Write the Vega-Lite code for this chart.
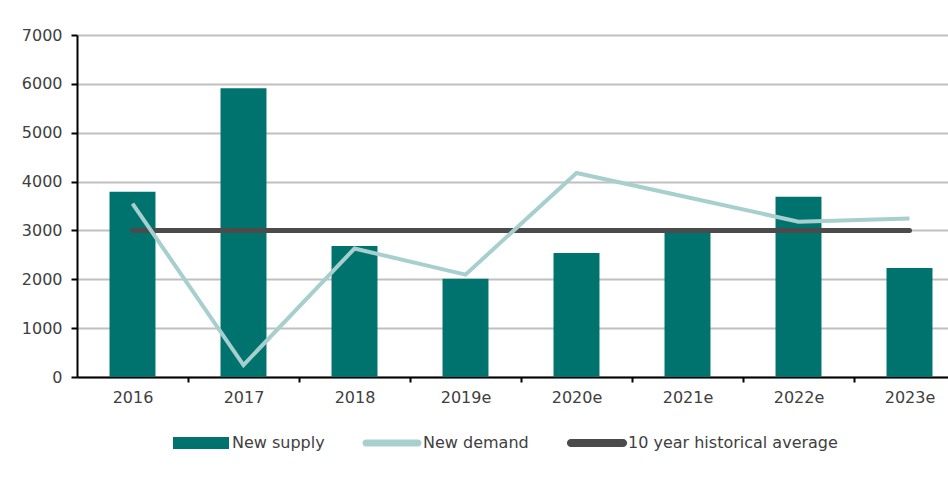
{
  "$schema": "https://vega.github.io/schema/vega-lite/v6.json",
  "width": 871,
  "height": 342,
  "autosize": {"type": "none"},
  "padding": {"left": 77, "top": 35, "right": 0, "bottom": 102},
  "background": "white",
  "config": {"view": {"stroke": null}, "font": "DejaVu Sans"},
  "data": {
    "values": [
      {"year": "2016", "series": "New supply", "value": 3790},
      {"year": "2017", "series": "New supply", "value": 5910},
      {"year": "2018", "series": "New supply", "value": 2680},
      {"year": "2019e", "series": "New supply", "value": 2010},
      {"year": "2020e", "series": "New supply", "value": 2540},
      {"year": "2021e", "series": "New supply", "value": 3000},
      {"year": "2022e", "series": "New supply", "value": 3690},
      {"year": "2023e", "series": "New supply", "value": 2230},
      {"year": "2016", "series": "New demand", "value": 3550},
      {"year": "2017", "series": "New demand", "value": 245},
      {"year": "2018", "series": "New demand", "value": 2630},
      {"year": "2019e", "series": "New demand", "value": 2095},
      {"year": "2020e", "series": "New demand", "value": 4175},
      {"year": "2021e", "series": "New demand", "value": 3680},
      {"year": "2022e", "series": "New demand", "value": 3180},
      {"year": "2023e", "series": "New demand", "value": 3245},
      {"year": "2016", "series": "10 year historical average", "value": 3000},
      {"year": "2017", "series": "10 year historical average", "value": 3000},
      {"year": "2018", "series": "10 year historical average", "value": 3000},
      {"year": "2019e", "series": "10 year historical average", "value": 3000},
      {"year": "2020e", "series": "10 year historical average", "value": 3000},
      {"year": "2021e", "series": "10 year historical average", "value": 3000},
      {"year": "2022e", "series": "10 year historical average", "value": 3000},
      {"year": "2023e", "series": "10 year historical average", "value": 3000}
    ]
  },
  "encoding": {
    "x": {
      "field": "year",
      "type": "ordinal",
      "sort": null,
      "scale": {"range": [0, 888], "paddingInner": 0.586, "paddingOuter": 0.293},
      "axis": {
        "title": null,
        "labelAngle": 0,
        "grid": false,
        "domainColor": "black",
        "domainWidth": 2,
        "tickColor": "black",
        "tickWidth": 2,
        "tickSize": 5,
        "tickOffset": 55.5,
        "labelOffset": -55.5,
        "labelPadding": 7,
        "labelFont": "DejaVu Sans",
        "labelFontSize": 16,
        "labelColor": "#404040"
      }
    },
    "y": {
      "field": "value",
      "type": "quantitative",
      "scale": {"domain": [0, 7000], "nice": false},
      "axis": {
        "title": null,
        "values": [0, 1000, 2000, 3000, 4000, 5000, 6000, 7000],
        "format": "d",
        "grid": true,
        "gridColor": "#c0c0c0",
        "gridWidth": 2,
        "domainColor": "black",
        "domainWidth": 2,
        "tickColor": "black",
        "tickWidth": 2,
        "tickSize": 6,
        "labelPadding": 9,
        "labelFont": "DejaVu Sans",
        "labelFontSize": 16,
        "labelColor": "#404040"
      }
    },
    "color": {
      "field": "series",
      "type": "nominal",
      "scale": {
        "domain": ["New supply", "New demand", "10 year historical average"],
        "range": ["#00736f", "#a6cfcd", "#4b4b4b"]
      },
      "legend": {
        "orient": "none",
        "legendX": 96,
        "legendY": 380,
        "direction": "horizontal",
        "title": null,
        "symbolSize": 3136,
        "labelFont": "DejaVu Sans",
        "labelFontSize": 16,
        "labelColor": "#404040",
        "labelOffset": 3,
        "labelLimit": 0,
        "columnPadding": 37,
        "padding": 0,
        "encode": {
          "symbols": {
            "update": {
              "shape": {"signal": "datum.value === 'New supply' ? 'M-1,-0.21H1V0.21H-1Z' : (datum.value === 'New demand' ? 'M-0.93,-0.125H0.93A0.125,0.125 0 0 1 0.93,0.125H-0.93A0.125,0.125 0 0 1 -0.93,-0.125Z' : 'M-0.93,-0.145H0.93A0.145,0.145 0 0 1 0.93,0.145H-0.93A0.145,0.145 0 0 1 -0.93,-0.145Z')"},
              "fill": {"scale": "color", "field": "value"},
              "stroke": {"value": "transparent"},
              "strokeWidth": {"value": 0},
              "opacity": {"value": 1},
              "fillOpacity": {"value": 1}
            }
          }
        }
      }
    }
  },
  "layer": [
    {
      "transform": [{"filter": "datum.series === 'New supply'"}],
      "mark": {"type": "bar"}
    },
    {
      "transform": [{"filter": "datum.series === '10 year historical average'"}],
      "mark": {"type": "line", "strokeWidth": 5, "strokeCap": "round"}
    },
    {
      "transform": [{"filter": "datum.series === 'New demand'"}],
      "mark": {"type": "line", "strokeWidth": 4}
    }
  ]
}
